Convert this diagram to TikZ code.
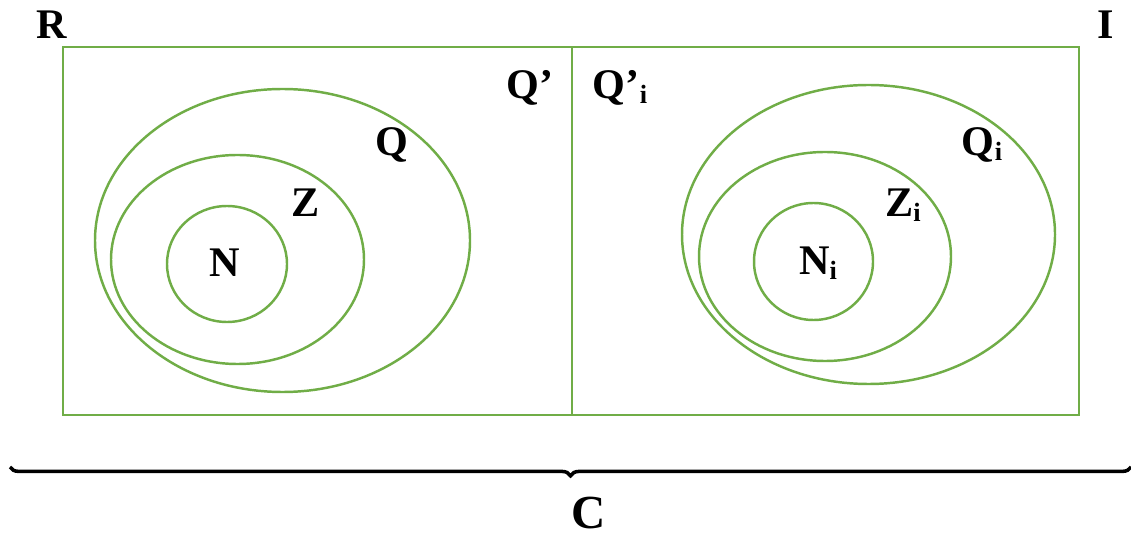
\documentclass[tikz,border=0pt]{standalone}
\usepackage{fontspec}
\setmainfont{Liberation Serif}
\usetikzlibrary{decorations.pathreplacing}
\definecolor{vgreen}{RGB}{112,173,71}
\newcommand{\subi}{\raisebox{-0.25ex}{\fontsize{15}{15}\selectfont i}}
\begin{document}
\begin{tikzpicture}[x=0.02cm,y=-0.02cm,
  setline/.style={draw=vgreen,line width=1.4pt},
  lbl/.style={font=\fontsize{24}{24}\selectfont\bfseries,inner sep=0pt}]
\useasboundingbox (0,0) rectangle (1131,536);
\draw[setline] (63,47) rectangle (1079,415);
\draw[setline] (572,47) -- (572,415);
% left
\draw[setline] (282.5,240.5) ellipse [x radius=187.5, y radius=151.5];
\draw[setline] (237.5,259.5) ellipse [x radius=126.5, y radius=104.5];
\draw[setline] (227,264) ellipse [x radius=60, y radius=58];
% right
\draw[setline] (868.5,234.5) ellipse [x radius=186.5, y radius=149.5];
\draw[setline] (825,256.5) ellipse [x radius=126, y radius=104.5];
\draw[setline] (813.5,261.5) ellipse [x radius=59.5, y radius=58.5];
% labels
\node[lbl] (R) at (52,25) {R};
\node[lbl] (I) at (1106,25) {I};
\node[lbl] (Qp) at (530,88) {Q’};
\node[lbl] (Qpi) at (620,88) {Q’\subi};
\node[lbl] (Q) at (392,145) {Q};
\node[lbl] (Z) at (306,203) {Z};
\node[lbl] (N) at (225,263) {N};
\node[lbl] (Qi) at (982,145) {Q\subi};
\node[lbl] (Zi) at (903,205) {Z\subi};
\node[lbl] (Ni) at (818,263) {N\subi};
\node[lbl,font=\fontsize{27}{27}\selectfont\bfseries] (C) at (589,513) {C};
% brace
\coordinate (bl) at (10,467);
\coordinate (br) at (1131,467);
\draw[line width=2pt,decorate,decoration={brace,mirror,amplitude=5pt}] (bl) -- (br);
\end{tikzpicture}
\end{document}
